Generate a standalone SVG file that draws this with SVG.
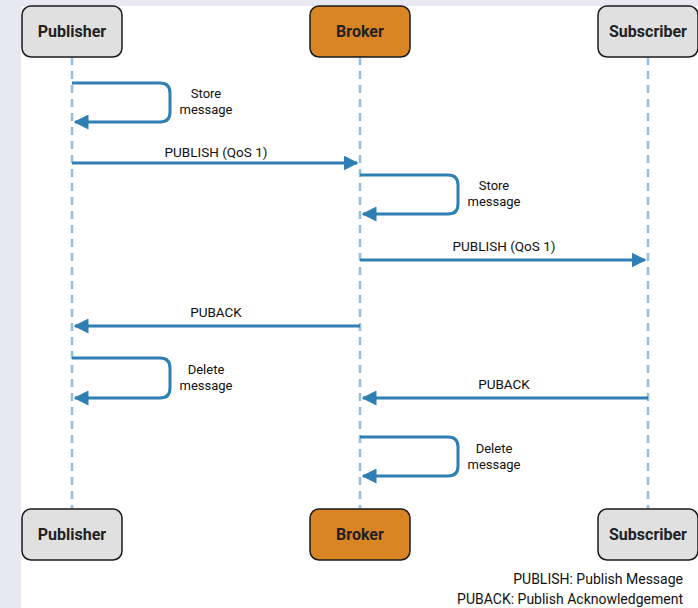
<svg xmlns="http://www.w3.org/2000/svg" width="698" height="608" viewBox="0 0 698 608">
<defs>
<marker id="ah" viewBox="0 0 10 10" refX="9" refY="5" markerWidth="5" markerHeight="5" markerUnits="strokeWidth" orient="auto">
<path d="M0,0 L10,5 L0,10 z" fill="#2f7fb5"/>
</marker>
<style>
.node{stroke:#1a1a1a;stroke-width:1.5}
.pn{fill:#e0e0e0}
.bn{fill:#d98523}
.nt{font-family:Roboto,"Liberation Sans",sans-serif;font-size:16px;font-weight:bold;fill:#222;text-anchor:middle}
.life{stroke:#90bedd;stroke-width:2.5;stroke-dasharray:8,6;fill:none}
.msg{stroke:#2f7fb5;stroke-width:3;fill:none;marker-end:url(#ah)}
.lb{font-family:Roboto,"Liberation Sans",sans-serif;font-size:13.5px;fill:#111;text-anchor:middle}
.lb2{font-family:Roboto,"Liberation Sans",sans-serif;font-size:13px;fill:#111;text-anchor:middle}
.lg{font-family:Roboto,"Liberation Sans",sans-serif;font-size:14px;fill:#111;text-anchor:end}
</style>
</defs>
<rect x="0" y="0" width="698" height="608" fill="#e8e8f3"/>
<rect x="21" y="6" width="677" height="602" fill="#ffffff"/>
<g id="lifelines">
<line class="life" x1="72" y1="57" x2="72" y2="509"/>
<line class="life" x1="360" y1="57" x2="360" y2="509"/>
<line class="life" x1="648" y1="57" x2="648" y2="509"/>
</g>
<g id="connectors">
<path class="msg" d="M72,83 H160 Q170,83 170,93 V112 Q170,122 160,122 H75"/>
<text class="lb2" x="206" y="98">Store</text>
<text class="lb2" x="206" y="114">message</text>
<path class="msg" d="M72,163 H357"/>
<text class="lb" x="216" y="157">PUBLISH (QoS 1)</text>
<path class="msg" d="M360,175 H448 Q458,175 458,185 V204 Q458,214 448,214 H363"/>
<text class="lb2" x="494" y="190">Store</text>
<text class="lb2" x="494" y="206">message</text>
<path class="msg" d="M360,260 H645"/>
<text class="lb" x="504" y="251">PUBLISH (QoS 1)</text>
<path class="msg" d="M360,326 H75"/>
<text class="lb" x="216" y="317">PUBACK</text>
<path class="msg" d="M72,358 H160 Q170,358 170,368 V388 Q170,398 160,398 H75"/>
<text class="lb2" x="206" y="374">Delete</text>
<text class="lb2" x="206" y="390">message</text>
<path class="msg" d="M648,398 H363"/>
<text class="lb" x="504" y="389">PUBACK</text>
<path class="msg" d="M360,437 H448 Q458,437 458,447 V466 Q458,476 448,476 H363"/>
<text class="lb2" x="494" y="453">Delete</text>
<text class="lb2" x="494" y="469">message</text>
</g>
<g id="publisher-top"><rect class="node pn" x="22" y="6" width="100" height="51" rx="9"/><text class="nt" x="72" y="37">Publisher</text></g>
<g id="broker-top"><rect class="node bn" x="310" y="6" width="100" height="51" rx="9"/><text class="nt" x="360" y="37">Broker</text></g>
<g id="subscriber-top"><rect class="node pn" x="598" y="6" width="100" height="51" rx="9"/><text class="nt" x="648" y="37">Subscriber</text></g>
<g id="publisher-bottom"><rect class="node pn" x="22" y="509" width="100" height="51" rx="9"/><text class="nt" x="72" y="540">Publisher</text></g>
<g id="broker-bottom"><rect class="node bn" x="310" y="509" width="100" height="51" rx="9"/><text class="nt" x="360" y="540">Broker</text></g>
<g id="subscriber-bottom"><rect class="node pn" x="598" y="509" width="100" height="51" rx="9"/><text class="nt" x="648" y="540">Subscriber</text></g>
<g id="legend">
<text class="lg" x="683" y="584">PUBLISH: Publish Message</text>
<text class="lg" x="683" y="604">PUBACK: Publish Acknowledgement</text>
</g>
</svg>
